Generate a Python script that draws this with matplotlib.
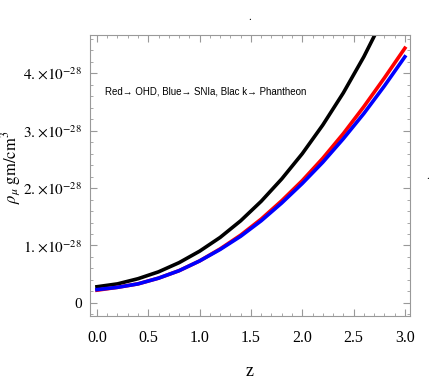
import matplotlib
matplotlib.use('Agg')
import matplotlib.pyplot as plt
from matplotlib.ticker import MultipleLocator

plt.rcParams['mathtext.fontset'] = 'stix'
plt.rcParams['font.family'] = ['Liberation Serif', 'DejaVu Serif']

# redshift samples and energy density (in units of 1e-28 gm/cm^3)
z = [0.0, 0.2, 0.4, 0.6, 0.8, 1.0, 1.2, 1.4, 1.6, 1.8, 2.0, 2.2, 2.4, 2.6, 2.8, 3.0]
rho_pantheon = [0.28, 0.33, 0.42, 0.54, 0.70, 0.90, 1.14, 1.43, 1.77, 2.16,
                2.60, 3.10, 3.66, 4.29, 5.00, 5.78]
rho_ohd = [0.22, 0.27, 0.33, 0.43, 0.56, 0.73, 0.94, 1.18, 1.46, 1.78,
           2.13, 2.52, 2.95, 3.42, 3.92, 4.44]
rho_snia = [0.23, 0.27, 0.33, 0.43, 0.56, 0.73, 0.93, 1.16, 1.43, 1.74,
            2.08, 2.45, 2.86, 3.30, 3.78, 4.29]

yticks = [0, 1, 2, 3, 4]
ylabels = ['0', r'$1.\!\times\!10^{-28}$', r'$2.\!\times\!10^{-28}$',
           r'$3.\!\times\!10^{-28}$', r'$4.\!\times\!10^{-28}$']

fig = plt.figure(figsize=(4.36, 3.82), dpi=100)
ax = fig.add_axes([0.2064, 0.1728, 0.734, 0.7356])

ax.plot(z, rho_pantheon, color='black', lw=2.6)
ax.plot(z, rho_ohd, color='#ff0000', lw=2.6)
ax.plot(z, rho_snia, color='#0000ff', lw=2.6)

ax.set_xlim(-0.068, 3.05)
ax.set_ylim(-0.23, 4.67)

ax.set_xticks([0, 0.5, 1.0, 1.5, 2.0, 2.5, 3.0])
ax.set_xticklabels(['0.0', '0.5', '1.0', '1.5', '2.0', '2.5', '3.0'])
ax.xaxis.set_minor_locator(MultipleLocator(0.1))
ax.set_yticks(yticks)
ax.set_yticklabels(ylabels)
ax.yaxis.set_minor_locator(MultipleLocator(0.2))

for s in ax.spines.values():
    s.set_color('#999999')
ax.tick_params(which='both', direction='in', top=True, right=True, color='#999999')
ax.tick_params(which='major', length=5, labelsize=11)
ax.tick_params(which='minor', length=2.5)
ax.tick_params(axis='x', pad=10, labelsize=11.5)
ax.tick_params(axis='y', pad=6)

ax.set_xlabel('z', fontsize=13, labelpad=12)
ax.set_ylabel(r'$\rho_\mu\ \mathrm{gm/cm^3}$', fontsize=12)
ax.yaxis.set_label_coords(-0.21, 0.53)

ax.text(0.08, 3.69, 'Red\u2192 OHD, Blue\u2192 SNIa, Blac k\u2192 Phantheon',
        fontsize=7, family=['Liberation Sans', 'DejaVu Sans'], va='center')

fig.text(250 / 436, 1 - 18 / 382, '.', fontsize=8, ha='center', va='center')
fig.text(428 / 436, 1 - 176 / 382, '.', fontsize=8, ha='center', va='center')

fig.savefig('out.png', dpi=100)
